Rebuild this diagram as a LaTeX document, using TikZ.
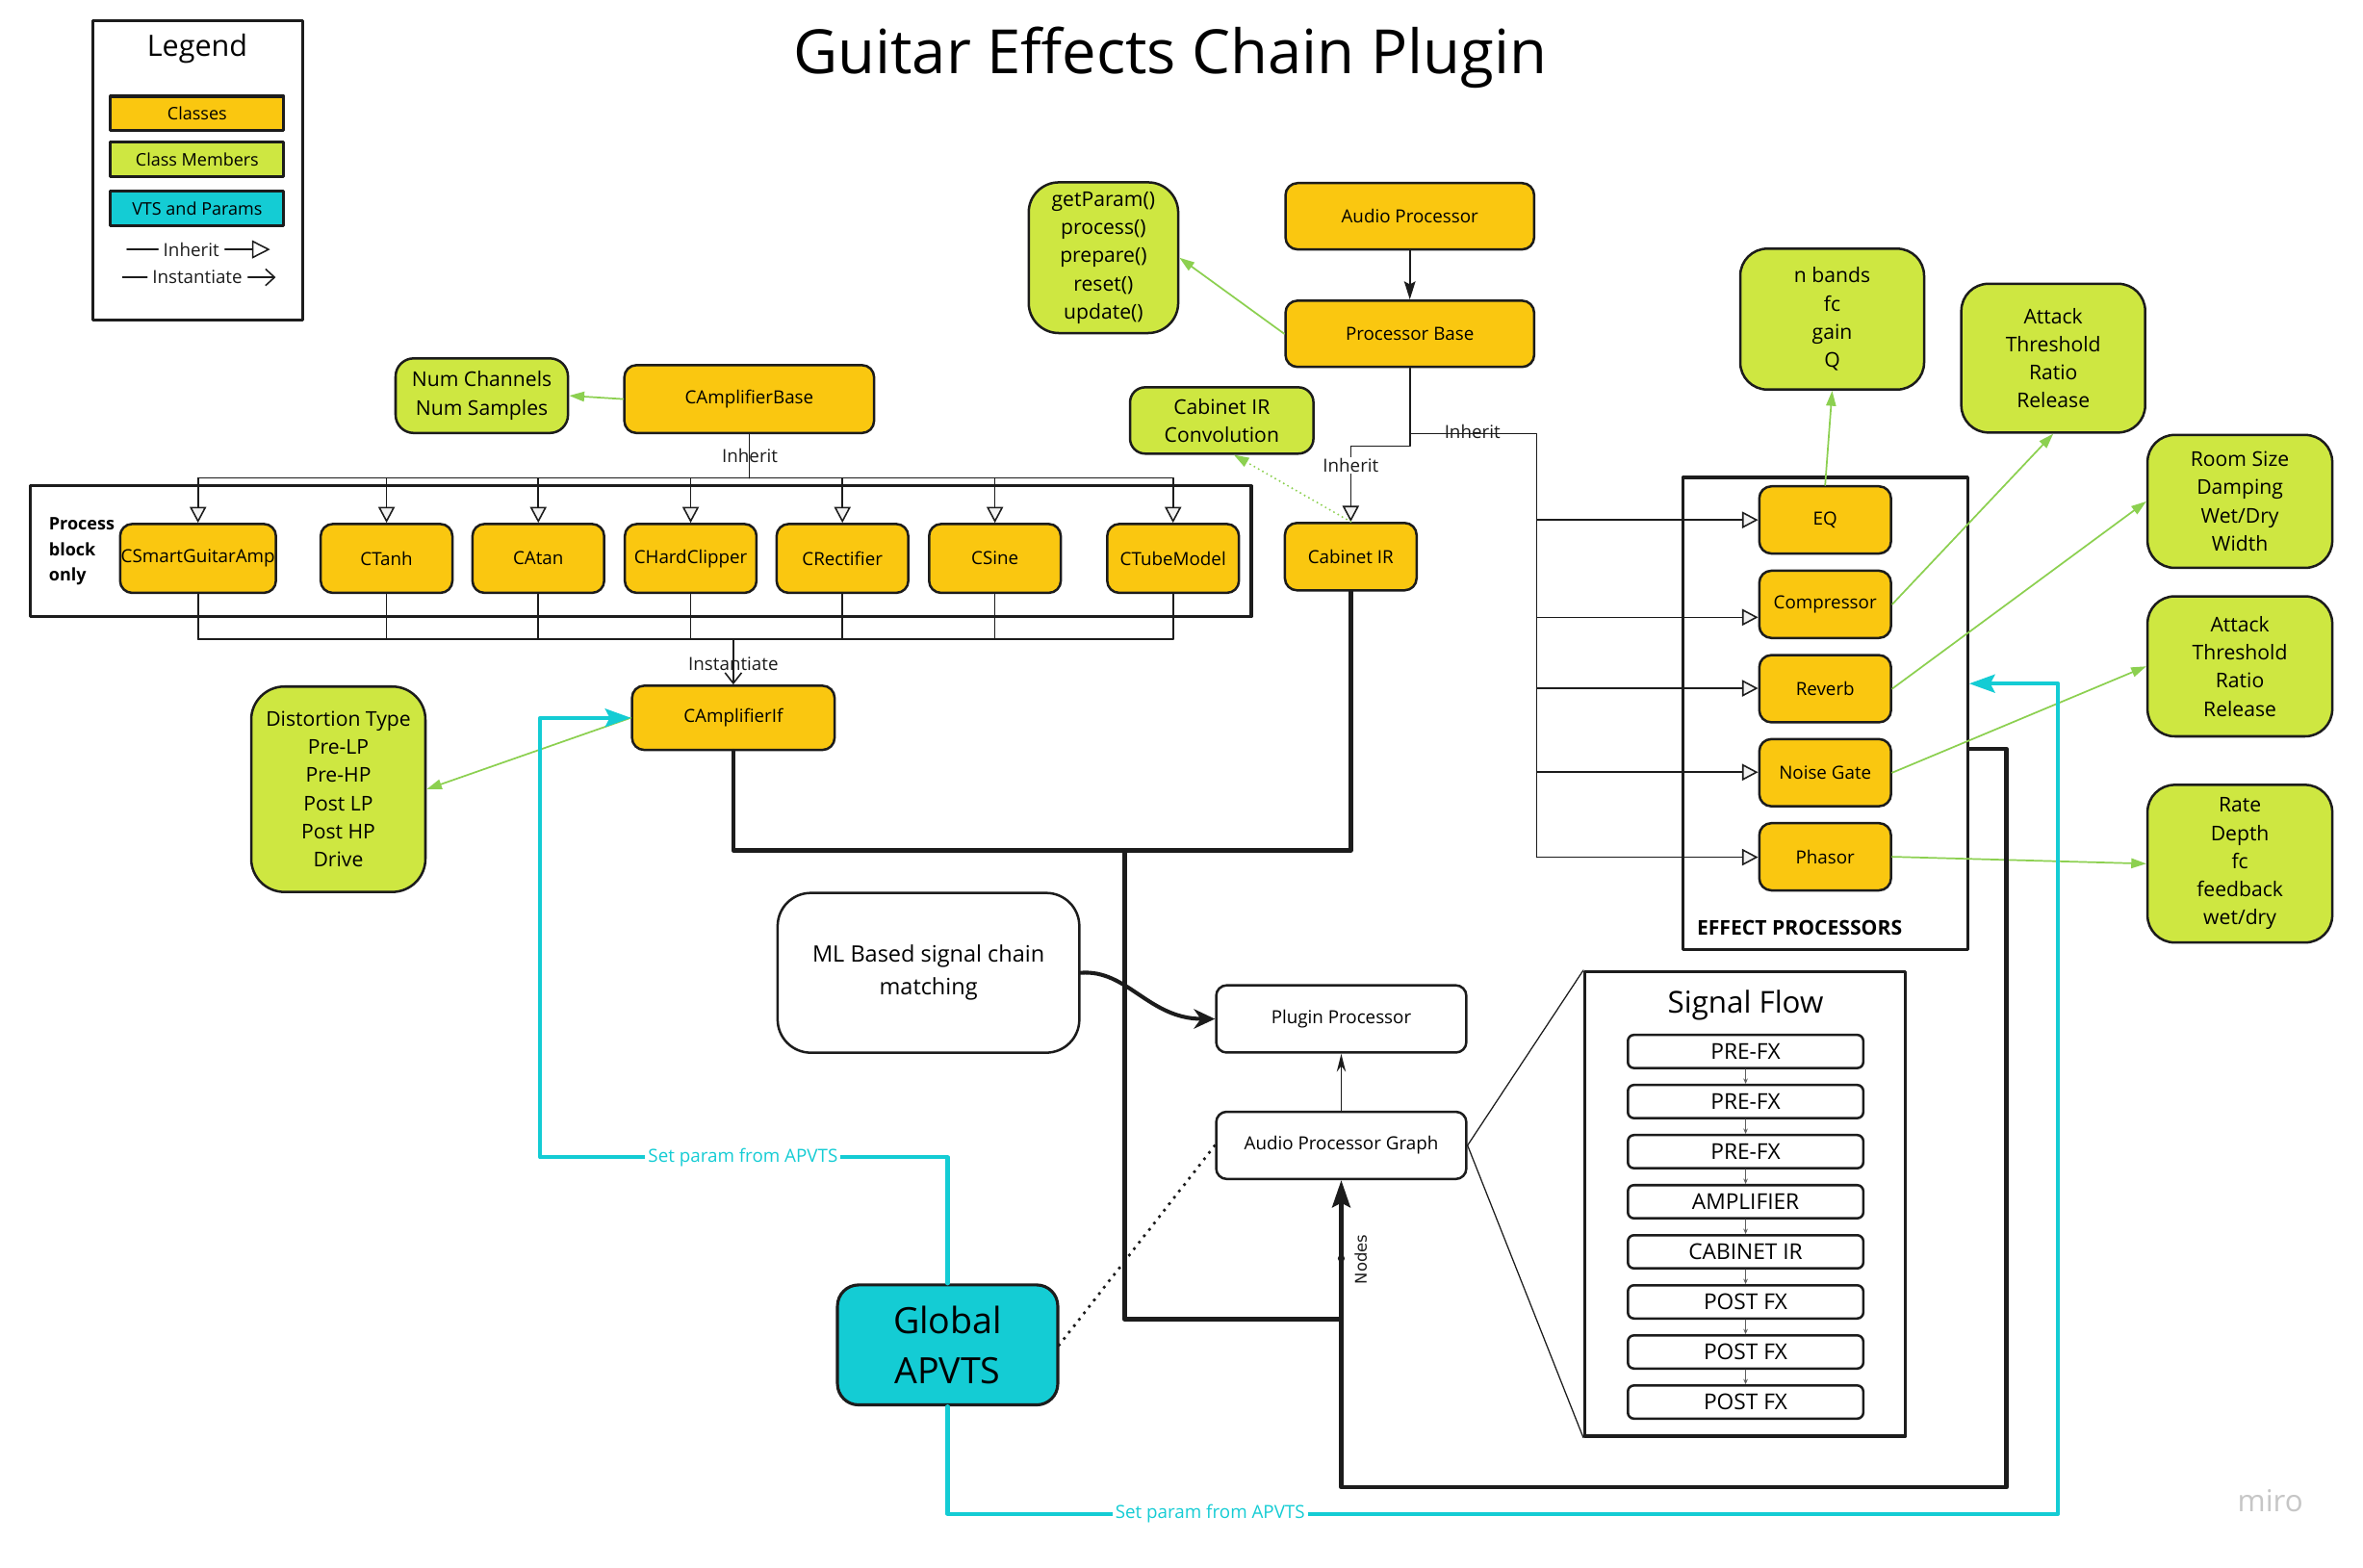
\documentclass[tikz,border=0pt]{standalone}
\usepackage{fontspec}
\setmainfont{Open Sans}
\newfontfamily\edgefont{DejaVu Sans}
\usetikzlibrary{arrows.meta,calc}

\definecolor{clsorange}{RGB}{250,199,16}
\definecolor{memgreen}{RGB}{206,231,65}
\definecolor{vtscyan}{RGB}{20,204,212}
\definecolor{arrgreen}{RGB}{140,208,80}
\definecolor{ink}{RGB}{28,28,28}

\begin{document}
\begin{tikzpicture}[x=1pt, y=-1pt, line cap=round, line join=round,
  thinl/.style={draw=ink, line width=1pt},
  inh/.style={thinl, -{Triangle[length=10.6pt,width=11pt,fill=gray!10]}},
  inst/.style={thinl, -{Straight Barb[length=7pt,width=11pt]}},
  memarr/.style={draw=arrgreen, line width=1.1pt, -{Triangle[length=10pt,width=6.5pt]}},
  bus/.style={draw=ink, line width=3pt},
  apv/.style={draw=vtscyan, line width=2.6pt},
  cls/.style={draw=ink, line width=1.6pt, fill=clsorange, rounded corners=8pt,
    inner sep=0pt, minimum width=87.4pt, minimum height=45pt,
    font=\fontsize{12}{15}\selectfont},
  mem/.style={draw=ink, line width=1.6pt, fill=memgreen, rounded corners=16pt,
    inner sep=0pt, align=center, font=\fontsize{13.5}{18.7}\selectfont},
  plain/.style={draw=ink, line width=1.6pt, fill=white, rounded corners=7pt,
    inner sep=0pt, minimum width=166pt, minimum height=44.6pt,
    font=\fontsize{12}{15}\selectfont},
  frame/.style={draw=ink, line width=2pt, inner sep=0pt},
  legbox/.style={draw=ink, line width=2pt, inner sep=0pt, minimum width=115pt,
    minimum height=22.6pt, font=\fontsize{11.5}{14}\selectfont},
  sfitem/.style={draw=ink, line width=1.6pt, rounded corners=4pt, inner sep=0pt,
    minimum width=156.2pt, minimum height=22pt, font=\fontsize{14.5}{16}\selectfont},
  sfarr/.style={draw=ink!70, line width=0.6pt, -{Stealth[length=3.5pt,width=3pt]}},
  lbl/.style={inner sep=1pt, text=ink, font=\fontsize{12}{15}\selectfont},
  apvlbl/.style={lbl, text=vtscyan, fill=white}
]

% ----------------------------
% PARAMETERS
% ----------------------------
\def\ytop{317.2}   % inherit bus above the process block
\def\ybot{424.1}   % instantiate bus below it
\def\xfx{1019.8}   % inherit bus of the effect processors

\fill[white] (0,0) rectangle (1568,1040);
\useasboundingbox (0,0) rectangle (1568,1040);

% ----------------------------
% TITLE
% ----------------------------
\node[anchor=base, font=\fontsize{40.5}{48}\selectfont] (title) at (776.5,49) {Guitar Effects Chain Plugin};

% ----------------------------
% LEGEND
% ----------------------------
\node[frame, minimum width=139.3pt, minimum height=198.8pt] (legend) at (131.25,113.2) {};
\node[font=\fontsize{19.5}{23}\selectfont] (legtitle) at (130.9,32.5) {Legend};
\node[legbox, fill=clsorange] (legcls) at (130.85,75.2) {Classes};
\node[legbox, fill=memgreen] (legmem) at (130.85,105.75) {Class Members};
\node[legbox, fill=vtscyan] (legvts) at (130.85,138.35) {VTS and Params};
\node[lbl, inner sep=0pt] (leginh) at (126.9,165.5) {Inherit};
\node[lbl, inner sep=0pt] (leginst) at (130.9,184) {Instantiate};
\draw[thinl] ([xshift=-3.3pt]leginh.west) -- ++(-20.6,0);
\draw[inh, -{Triangle[length=12pt,width=12pt,fill=white]}] ([xshift=3.7pt]leginh.east) -- ++(30,0);
\draw[thinl] ([xshift=-3.3pt]leginst.west) -- ++(-16.2,0);
\draw[inst, -{Straight Barb[length=6pt,width=11pt]}] ([xshift=3.7pt]leginst.east) -- ++(18.3,0);

% ----------------------------
% FRAMES
% ----------------------------
\node[frame, minimum width=810pt, minimum height=86.7pt] (procblk) at (425.3,365.85) {};
\node[anchor=west, align=left, font=\bfseries\fontsize{11.5}{17}\selectfont] (proclbl) at (29,366) {Process\\block\\only};
\node[frame, minimum width=189.1pt, minimum height=313.2pt] (fxbox) at (1211.15,473.4) {};
\node[anchor=west, font=\bfseries\fontsize{13.5}{16}\selectfont] (fxlbl) at (1122.5,615.5) {EFFECT PROCESSORS};
\node[frame, minimum width=212.9pt, minimum height=308.1pt] (sfbox) at (1158.05,798.85) {};
\node[font=\fontsize{20}{24}\selectfont] (sftitle) at (1158.3,667) {Signal Flow};

% ----------------------------
% CLASSES
% ----------------------------
\node[cls, minimum width=165.7pt] (campbase) at (497.15,264.8) {CAmplifierBase};
\node[cls, minimum width=165pt, minimum height=44pt] (audproc) at (935.5,143.5) {Audio Processor};
\node[cls, minimum width=165pt, minimum height=44pt] (pbase) at (935.5,221.5) {Processor Base};
\node[cls, minimum height=44.7pt] (cabir) at (896.3,369.35) {Cabinet IR};
\node[cls, minimum width=134.4pt, minimum height=42.6pt] (campif) at (486.6,476.3) {CAmplifierIf};

% amplifier models: inherit from above, instantiate below
\foreach \nm/\xc/\bw/\lbl in {csga/131.4/103.4pt/CSmartGuitarAmp, ctanh/256.5/87.4pt/CTanh,
    catan/357.2/87.4pt/CAtan, chard/458.3/87.4pt/CHardClipper, crect/559/87.4pt/CRectifier,
    csine/660.2/87.4pt/CSine, ctube/778.4/87.4pt/CTubeModel}{
  \node[cls, minimum width=\bw, minimum height=45.7pt] (\nm) at (\xc,370.55) {\lbl};
  \draw[inh] (\xc,\ytop) -- (\nm.north);
  \draw[thinl] (\nm.south) -- (\xc,\ybot);
}
\coordinate (topbus) at (497.15,\ytop);
\coordinate (botbus) at (486.6,\ybot);
\draw[thinl] (campbase.south) -- (topbus);
\draw[thinl] (131.4,\ytop) -- (778.4,\ytop);
\draw[thinl] (131.4,\ybot) -- (778.4,\ybot);
\draw[inst] (botbus) -- (campif.north);
\node[lbl] (inhA) at (497.6,302.3) {Inherit};
\node[lbl] (instA) at (486.6,440.3) {Instantiate};

% effect processors
\foreach \nm/\yc/\ya/\lbl in {eq/345/345/EQ, comp/401/409.6/Compressor, rev/457/456.7/Reverb,
    gate/512.7/512.4/Noise Gate, phas/568.5/568.8/Phasor}{
  \node[cls, minimum height=44.6pt] (\nm) at (1211.1,\yc) {\lbl};
  \draw[inh] (\xfx,\ya) -- ($(\nm.west)+(0,{\ya-\yc})$);
}

% processor base inheritance
\coordinate (pbj) at (935.5,287.8);
\coordinate (cabj) at (896.3,296);
\coordinate (fxtop) at (\xfx,287.8);
\coordinate (fxbot) at (\xfx,568.8);
\draw[thinl, -{Stealth[length=12pt,width=7.5pt,inset=2pt]}] (audproc.south) -- (pbase.north);
\draw[thinl] (pbase.south) -- (pbj);
\draw[inh] (pbj) |- (cabj) -- (cabir.north);
\draw[thinl] (pbj) -- (fxtop) -- (fxbot);
\node[lbl, fill=white] (inhB) at (896.3,308.7) {Inherit};
\node[lbl] (inhC) at (977,286.6) {Inherit};

% ----------------------------
% CLASS MEMBERS
% ----------------------------
\node[mem, rounded corners=12pt, minimum width=114.4pt, minimum height=49.5pt] (numch) at (319.7,262.55) {Num Channels\\Num Samples};
\node[mem, rounded corners=20pt, minimum width=99.2pt, minimum height=100pt] (getp) at (732.2,171) {getParam()\\process()\\prepare()\\reset()\\update()};
\node[mem, rounded corners=10pt, minimum width=121.7pt, minimum height=44pt] (conv) at (810.7,279) {Cabinet IR\\Convolution};
\node[mem, rounded corners=22pt, minimum width=115.6pt, minimum height=136.3pt] (dist) at (224.5,523.7) {Distortion Type\\Pre-LP\\Pre-HP\\Post LP\\Post HP\\Drive};
\node[mem, rounded corners=18pt, minimum width=122pt, minimum height=93.5pt] (nband) at (1215.75,211.75) {n bands\\fc\\gain\\Q};
\node[mem, rounded corners=18pt, minimum width=122pt, minimum height=98.7pt] (att1) at (1362.45,237.65) {Attack\\Threshold\\Ratio\\Release};
\node[mem, rounded corners=18pt, minimum width=122.6pt, minimum height=88.2pt] (room) at (1486.3,332.7) {Room Size\\Damping\\Wet/Dry\\Width};
\node[mem, rounded corners=18pt, minimum width=122.6pt, minimum height=92.9pt] (att2) at (1486.3,442.15) {Attack\\Threshold\\Ratio\\Release};
\node[mem, rounded corners=18pt, minimum width=122.6pt, minimum height=104.6pt] (rate) at (1486.3,573.1) {Rate\\Depth\\fc\\feedback\\wet/dry};

\draw[memarr] (campbase.west) -- (numch.east);
\draw[memarr] (pbase.west) -- (getp.east);
\draw[memarr] (campif.west) -- (dist.east);
\draw[memarr] (eq.north) -- (nband.south);
\draw[memarr] (comp.east) -- (att1.south);
\draw[memarr] (rev.east) -- (room.west);
\draw[memarr] (gate.east) -- (att2.west);
\draw[memarr] (phas.east) -- (rate.west);
\draw[memarr, line width=1.4pt, dash pattern=on 0pt off 3.2pt] (cabir.north) -- ($(conv.south)+(8,0)$);

% ----------------------------
% PLUGIN SIDE
% ----------------------------
\node[plain, rounded corners=22pt, minimum width=200.2pt, minimum height=106pt, align=center,
  font=\fontsize{15}{22}\selectfont] (mlbox) at (616.1,645.5) {ML Based signal chain\\matching};
\node[plain] (plugproc) at (890,676.1) {Plugin Processor};
\node[plain] (apg) at (890,760) {Audio Processor Graph};
\node[draw=ink, line width=2pt, fill=vtscyan, rounded corners=14pt, minimum width=146.2pt,
  minimum height=79.6pt, inner sep=0pt, align=center,
  font=\fontsize{24}{33}\selectfont] (gapvts) at (628.8,892.4) {Global\\APVTS};

\draw[draw=ink, line width=2.6pt, -{Stealth[length=14pt,width=13pt]}]
  (mlbox.east) .. controls (748,643) and (762,676) .. (plugproc.west);
\draw[thinl, -{Stealth[length=12pt,width=6pt]}] (apg.north) -- (plugproc.south);
\draw[draw=ink, line width=2.4pt, dash pattern=on 0pt off 5.4pt] (gapvts.east) -- (apg.west);

% signal flow chain
\foreach \i/\lbl in {1/PRE-FX, 2/PRE-FX, 3/PRE-FX, 4/AMPLIFIER, 5/CABINET IR,
    6/POST FX, 7/POST FX, 8/POST FX}{
  \node[sfitem] (sf\i) at (1158.3,{697.7+33.23*(\i-1)}) {\lbl};
}
\foreach \i/\j in {1/2,2/3,3/4,4/5,5/6,6/7,7/8}{
  \draw[sfarr] (sf\i.south) -- (sf\j.north);
}
\draw[thinl, line width=0.8pt] (apg.east) -- (sfbox.north west);
\draw[thinl, line width=0.8pt] (apg.east) -- (sfbox.south west);

% ----------------------------
% AUDIO PATH (thick)
% ----------------------------
\coordinate (j1) at (746.1,564.2);
\coordinate (j2) at (890,875.3);
\coordinate (r1) at (1331.4,986.8);
\draw[bus] (campif.south) |- (j1) -| (cabir.south);
\draw[bus] (j1) |- (j2);
\draw[bus, -{Stealth[length=18pt,width=12pt,inset=3pt]}] ([yshift=-23.6pt]fxbox.east) -| (r1) -| (apg.south);
\coordinate (ndot) at (890,835);
\fill[ink] (ndot) circle (2.3pt);
\node[lbl, rotate=90, font=\edgefont\fontsize{10.5}{13}\selectfont] (nodeslbl) at (903,835.6) {Nodes};

% ----------------------------
% APVTS PARAMETER LINES
% ----------------------------
\coordinate (cy1) at (358.5,768);
\coordinate (cy2) at (1365.6,1004.5);
\draw[apv, -{Stealth[length=17pt,width=12pt,inset=3pt]}] (gapvts.north) |- (cy1) |- (campif.west);
\draw[apv, -{Stealth[length=17pt,width=12pt,inset=3pt]}] (gapvts.south) |- (cy2) |- ([yshift=19.8pt]fxbox.east);
\node[apvlbl, inner xsep=2pt] (setp1) at (493,768) {Set param from APVTS};
\node[apvlbl, inner xsep=2pt] (setp2) at (803,1004.5) {Set param from APVTS};

% watermark
\node[text=gray!45, font=\fontsize{20}{24}\selectfont] (miro) at (1506.5,995.8) {miro};

\end{tikzpicture}
\end{document}
